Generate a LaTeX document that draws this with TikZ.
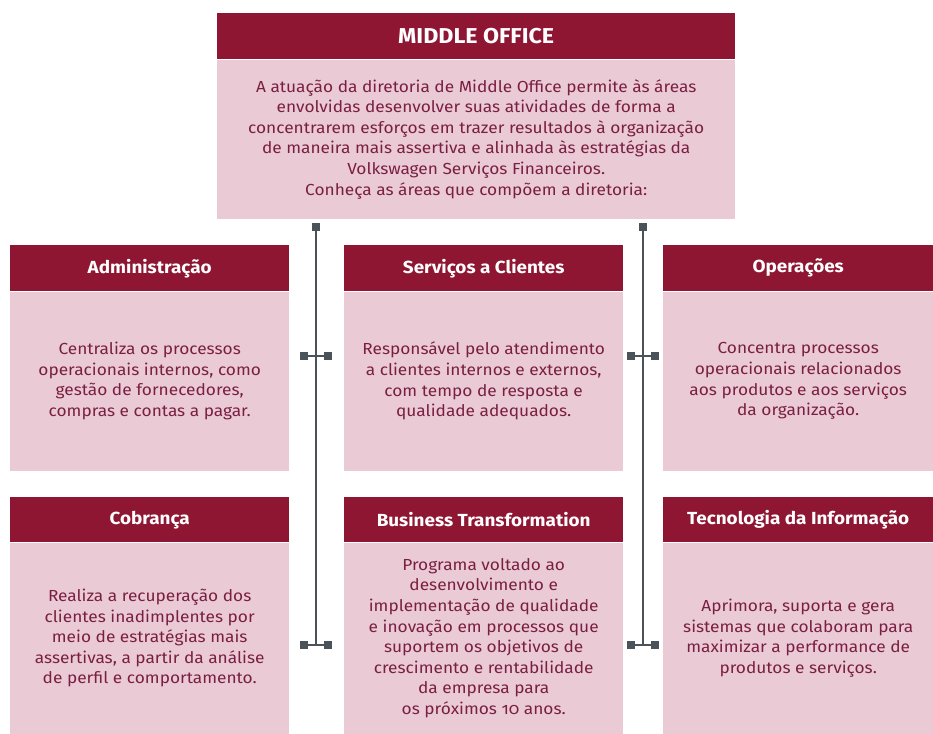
\documentclass[tikz,border=0pt]{standalone}
\usepackage{fontspec}
\setmainfont{Fira Sans}[Numbers=OldStyle, FakeStretch=1.08]
\usetikzlibrary{positioning}

\definecolor{vwred}{HTML}{8F1632}
\definecolor{vwpink}{HTML}{EACBD5}
\definecolor{vwtext}{HTML}{7A1F41}
\definecolor{wiregray}{HTML}{4A525A}

\begin{document}
\begin{tikzpicture}[x=1pt,y=-1pt,
  head/.style={rectangle, fill=vwred, text=white, inner sep=0pt,
    font=\fontsize{17.5}{21}\selectfont\bfseries},
  body/.style={rectangle, fill=vwpink, text=vwtext, inner sep=0pt, align=center,
    font=\fontsize{16}{20.6}\selectfont},
  knob/.style={rectangle, fill=wiregray, minimum size=8pt, inner sep=0pt},
  wire/.style={draw=wiregray, line width=2pt}]
  \useasboundingbox[fill=white] (0,0) rectangle (933,733);

  % top box
  \node[head, minimum width=518pt, minimum height=46pt, anchor=north west,
    font=\fontsize{21.5}{25}\selectfont\bfseries] (mohead) at (217,13) {MIDDLE OFFICE};
  \node[body, minimum width=518pt, minimum height=159pt, below=0pt of mohead] (mobody)
    {A atuação da diretoria de Middle Office permite às áreas\\
     envolvidas desenvolver suas atividades de forma a\\
     concentrarem esforços em trazer resultados à organização\\
     de maneira mais assertiva e alinhada às estratégias da\\
     Volkswagen Serviços Financeiros.\\
     Conheça as áreas que compõem a diretoria:};

  % first row
  \node[head, minimum width=279pt, minimum height=46pt, anchor=north west] (admhead) at (10,245) {Administração};
  \node[body, minimum width=279pt, minimum height=179pt, below=0pt of admhead] (admbody)
    {Centraliza os processos\\
     operacionais internos, como\\
     gestão de fornecedores,\\
     compras e contas a pagar.};

  \node[head, minimum width=279pt, minimum height=46pt, anchor=north west] (clihead) at (344,245) {Serviços a Clientes};
  \node[body, minimum width=279pt, minimum height=179pt, below=0pt of clihead] (clibody)
    {Responsável pelo atendimento\\
     a clientes internos e externos,\\
     com tempo de resposta e\\
     qualidade adequados.};

  \node[head, minimum width=270pt, minimum height=46pt, anchor=north west] (ophead) at (663,245) {Operações};
  \node[body, minimum width=270pt, minimum height=179pt, below=0pt of ophead] (opbody)
    {Concentra processos\\
     operacionais relacionados\\
     aos produtos e aos serviços\\
     da organização.};

  % second row
  \node[head, minimum width=279pt, minimum height=45pt, anchor=north west] (cobhead) at (10,497) {Cobrança};
  \node[body, minimum width=279pt, minimum height=191pt, below=0pt of cobhead] (cobbody)
    {Realiza a recuperação dos\\
     clientes inadimplentes por\\
     meio de estratégias mais\\
     assertivas, a partir da análise\\
     de perfil e comportamento.};

  \node[head, minimum width=279pt, minimum height=45pt, anchor=north west] (bthead) at (344,497) {Business Transformation};
  \node[body, minimum width=279pt, minimum height=191pt, below=0pt of bthead] (btbody)
    {Programa voltado ao\\
     desenvolvimento e\\
     implementação de qualidade\\
     e inovação em processos que\\
     suportem os objetivos de\\
     crescimento e rentabilidade\\
     da empresa para\\
     os próximos 10 anos.};

  \node[head, minimum width=270pt, minimum height=45pt, anchor=north west] (tihead) at (663,497) {Tecnologia da Informação};
  \node[body, minimum width=270pt, minimum height=191pt, below=0pt of tihead] (tibody)
    {Aprimora, suporta e gera\\
     sistemas que colaboram para\\
     maximizar a performance de\\
     produtos e serviços.};

  % left spine
  \node[knob] (ltop) at (316,227) {};
  \node[knob] (la1) at (304,355.5) {};
  \node[knob] (lb1) at (328,355.5) {};
  \node[knob] (la2) at (304,645) {};
  \node[knob] (lb2) at (328,645) {};
  \coordinate (lend) at (316,645);
  \draw[wire] (ltop) -- (lend);
  \draw[wire] (la1) -- (lb1);
  \draw[wire] (la2) -- (lb2);

  % right spine
  \node[knob] (rtop) at (643,227) {};
  \node[knob] (ra1) at (631,355.5) {};
  \node[knob] (rb1) at (655,355.5) {};
  \node[knob] (ra2) at (631,645) {};
  \node[knob] (rb2) at (655,645) {};
  \coordinate (rend) at (643,645);
  \draw[wire] (rtop) -- (rend);
  \draw[wire] (ra1) -- (rb1);
  \draw[wire] (ra2) -- (rb2);
\end{tikzpicture}
\end{document}
